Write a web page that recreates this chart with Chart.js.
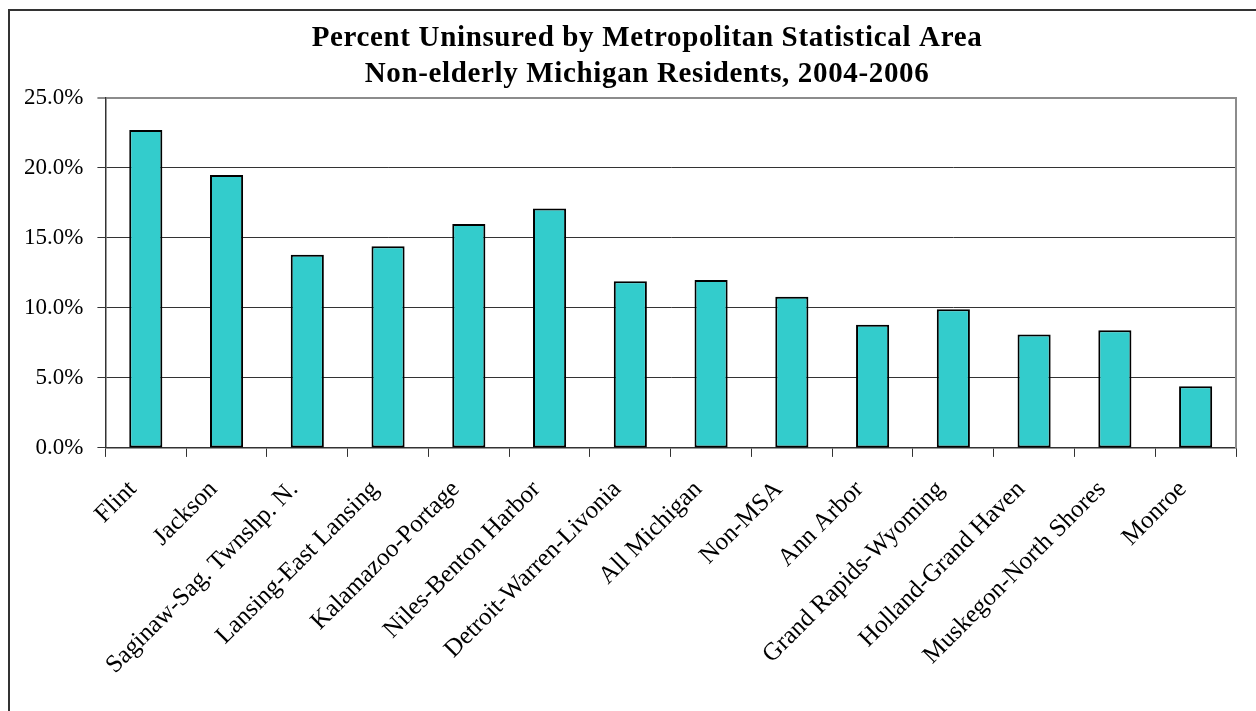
<!DOCTYPE html>
<html>
<head>
<meta charset="utf-8">
<script src="https://cdn.jsdelivr.net/npm/chart.js@4/dist/chart.umd.min.js"></script>
<style>
  html, body { margin: 0; padding: 0; background: #fff; overflow: hidden; width: 1256px; height: 711px; }
  #frame { position: absolute; left: 8px; top: 9px; width: 1400px; height: 800px;
           border-left: 2px solid #333; border-top: 2px solid #333; }
  #chart { position: absolute; left: 0; top: 0; }
</style>
</head>
<body>
<div id="frame"><canvas id="chart" width="1274" height="720"></canvas></div>
<script>
// Percent of non-elderly residents without health insurance, by MSA (2004-2006)
const categories = [
  'Flint', 'Jackson', 'Saginaw-Sag. Twnshp. N.', 'Lansing-East Lansing',
  'Kalamazoo-Portage', 'Niles-Benton Harbor', 'Detroit-Warren-Livonia',
  'All Michigan', 'Non-MSA', 'Ann Arbor', 'Grand Rapids-Wyoming',
  'Holland-Grand Haven', 'Muskegon-North Shores', 'Monroe'
];
const uninsuredPct = [22.7, 19.5, 13.8, 14.4, 16.0, 17.1, 11.9, 12.0, 10.8, 8.8, 9.9, 8.1, 8.4, 4.4];
const yTicks = [0, 5, 10, 15, 20, 25];
const titleLines = [
  'Percent Uninsured by Metropolitan Statistical Area',
  'Non-elderly Michigan Residents, 2004-2006'
];

const serif = "'Liberation Serif', 'Times New Roman', serif";

// Slightly wider letter spacing for the chart title only
const titleSpacing = {
  id: 'titleSpacing',
  beforeDraw(chart) {
    const tb = chart.titleBlock;
    if (tb && !tb._spaced) {
      const draw = tb.draw.bind(tb);
      tb.draw = function (area) {
        const c = this.ctx;
        c.save();
        c.letterSpacing = '0.65px';
        draw(area);
        c.restore();
      };
      tb._spaced = true;
    }
  }
};

new Chart(document.getElementById('chart'), {
  type: 'bar',
  data: {
    labels: categories,
    datasets: [{
      data: uninsuredPct,
      backgroundColor: '#33CCCC',
      borderColor: '#000000',
      borderWidth: 2,
      borderSkipped: false,
      categoryPercentage: 1,
      barPercentage: 0.41
    }]
  },
  options: {
    responsive: false,
    animation: false,
    layout: { padding: { left: 0, right: 0, top: 0, bottom: 33 } },
    plugins: {
      legend: { display: false },
      tooltip: { enabled: false },
      title: {
        display: true,
        text: titleLines,
        color: '#000',
        font: { family: serif, size: 29, weight: 'bold', lineHeight: 1.24 },
        padding: { top: 10, bottom: 5 }
      }
    },
    scales: {
      x: {
        offset: true,
        grid: {
          offset: true,
          drawOnChartArea: false,
          drawTicks: true,
          tickLength: 9,
          color: '#333',
          lineWidth: 1
        },
        border: { display: true, color: '#333', width: 1.5 },
        ticks: {
          color: '#000',
          font: { family: serif, size: 25 },
          minRotation: 45,
          maxRotation: 45,
          autoSkip: false,
          padding: 18,
          labelOffset: -13
        }
      },
      y: {
        min: 0,
        max: 25,
        afterBuildTicks(scale) { scale.ticks = yTicks.map(v => ({ value: v })); },
        grid: {
          color: ctx => (ctx.tick && ctx.tick.value === 25 ? '#8c8c8c' : '#333'),
          lineWidth: ctx => (ctx.tick && ctx.tick.value === 25 ? 2 : 1),
          tickLength: 8,
          drawTicks: true
        },
        border: { display: true, color: '#333', width: 1.5 },
        ticks: {
          color: '#000',
          font: { family: serif, size: 23 },
          padding: 14,
          callback: v => Number(v).toFixed(1) + '%'
        }
      },
      yRight: {
        position: 'right',
        min: 0,
        max: 25,
        grid: { display: false, drawTicks: false },
        ticks: { display: false },
        border: { display: true, color: '#8c8c8c', width: 2 },
        afterFit(scale) { scale.width = 48; }
      }
    }
  },
  plugins: [titleSpacing]
});
</script>
</body>
</html>
